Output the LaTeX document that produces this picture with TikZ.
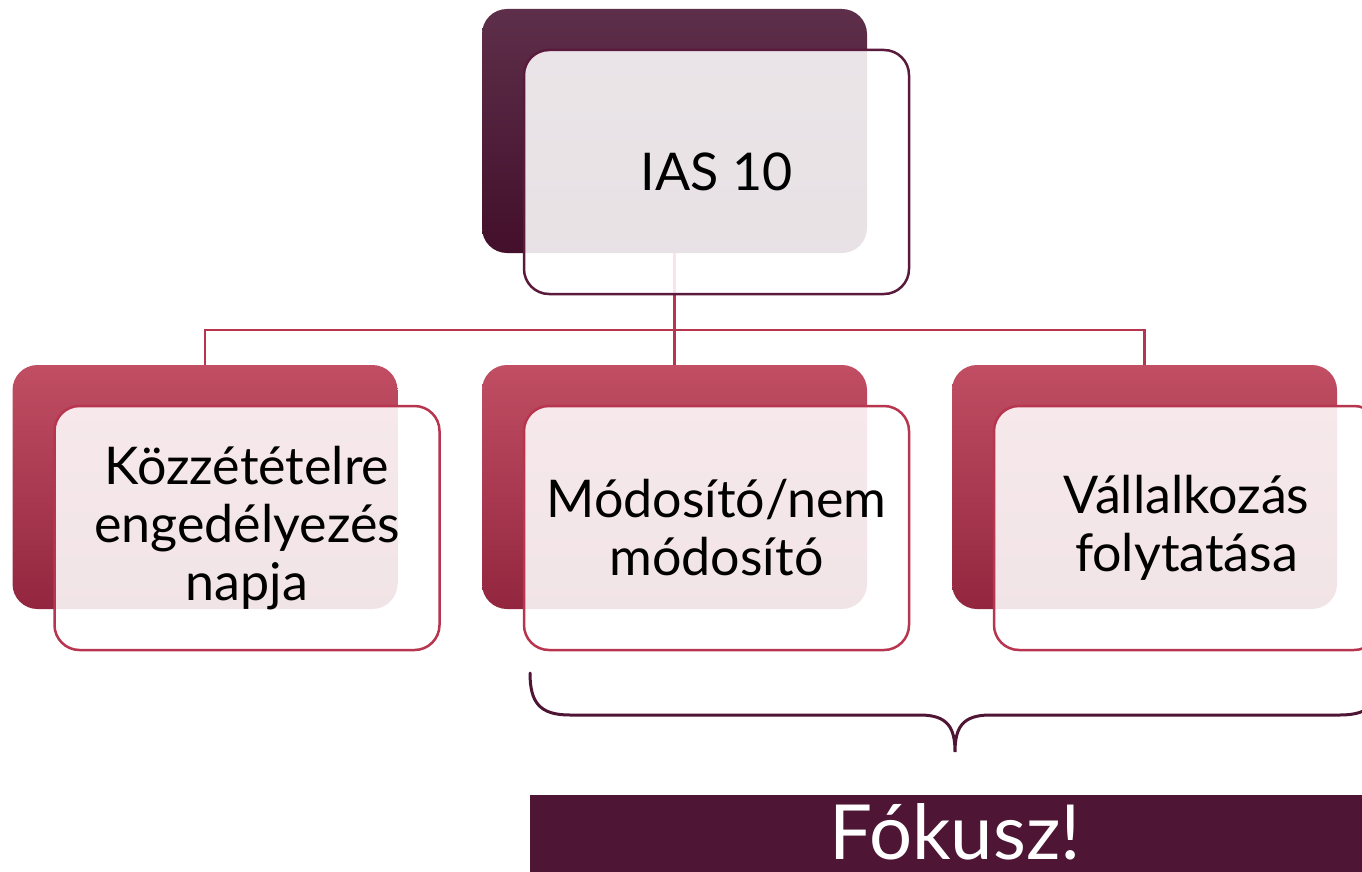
\documentclass[tikz,border=0pt]{standalone}
\usepackage{fontspec}
\setmainfont{Lato}
\usepackage{xcolor}
\usepackage{tikz}
\usetikzlibrary{positioning}

\definecolor{plumtop}{HTML}{5E2F4A}
\definecolor{plumbot}{HTML}{430F2B}
\definecolor{plumline}{HTML}{5A1A3C}
\definecolor{rosetop}{HTML}{C14E63}
\definecolor{rosebot}{HTML}{92263E}
\definecolor{roseline}{HTML}{B8354F}
\definecolor{focusfill}{HTML}{4E1535}

\begin{document}
\begin{tikzpicture}[x=1pt,y=-1pt,
  back box/.style={rounded corners=25pt,minimum width=385pt,minimum height=244pt,inner sep=0pt},
  front box/.style={rounded corners=25pt,minimum width=385pt,minimum height=244pt,line width=2.5pt,
    fill=white,fill opacity=0.88,text opacity=1,align=center,font=\fontsize{52}{58}\selectfont,xshift=42pt,yshift=-41pt},
  top back/.style={back box,top color=plumtop,bottom color=plumbot},
  low back/.style={back box,top color=rosetop,bottom color=rosebot},
  link line/.style={draw=roseline,line width=2.5pt}]

\useasboundingbox (0,0) rectangle (1362,872);
\clip (0,0) rectangle (1362,872);

\node[top back] (root back) at (674.5,131) {};
\node[low back] (left back) at (205,487) {};
\node[low back] (mid back) at (674.5,487) {};
\node[low back] (right back) at (1144.5,487) {};

\path[link line]
(root back.south) -- ++(0,77) coordinate (hub)
(hub) -| (left back.north)
(hub) -- (mid back.north)
(hub) -| (right back.north);

\node[front box,draw=plumline] (ias) at (root back) {IAS 10};
\node[front box,draw=roseline] (date) at (left back) {Közzétételre\\engedélyezés\\napja};
\node[front box,draw=roseline] (adjust) at (mid back) {Módosító/nem\\módosító};
\node[front box,draw=roseline] (going) at (right back) {Vállalkozás\\folytatása};

% a kapcsos zárójel a két utolsó doboz alatt
\draw[focusfill,line width=3pt,line cap=round]
(530,673) .. controls (530,703) and (540,715) .. (570,715) -- (920,715)
.. controls (948,715) and (955,728) .. (955,752)
.. controls (955,728) and (962,715) .. (990,715) -- (1340,715)
.. controls (1370,715) and (1380,703) .. (1380,673);

\fill[focusfill] (530,795) rectangle (1380,890);
\node[text=white,inner sep=0pt,font=\fontsize{76}{80}\selectfont] (focus) at (955,832) {Fókusz!};
\end{tikzpicture}
\end{document}
